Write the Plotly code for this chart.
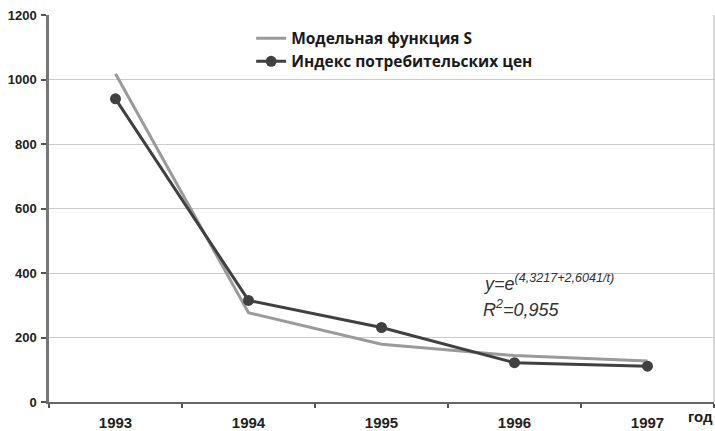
import plotly.graph_objects as go

years = ["1993", "1994", "1995", "1996", "1997"]
model_s = [1018, 277, 179, 144, 127]
cpi = [940, 315, 231, 122, 111]
y_ticks = [0, 200, 400, 600, 800, 1000, 1200]

fig = go.Figure()
fig.add_trace(go.Scatter(
    x=years, y=model_s, mode="lines", name="Модельная функция S",
    line=dict(color="#9a9a9a", width=3),
))
fig.add_trace(go.Scatter(
    x=years, y=cpi, mode="lines+markers", name="Индекс потребительских цен",
    line=dict(color="#404040", width=3),
    marker=dict(color="#404040", size=11),
))

fig.update_layout(
    width=715, height=431,
    margin=dict(l=49, r=1, t=15, b=29),
    paper_bgcolor="white", plot_bgcolor="white",
    font=dict(family="Liberation Sans, Arial, sans-serif", color="#1a1a1a"),
    showlegend=True,
    legend=dict(
        x=0.304, y=0.983, xanchor="left", yanchor="top",
        bgcolor="rgba(0,0,0,0)",
        font=dict(family="Open Sans, sans-serif", size=15.5, color="#1a1a1a", weight="bold"),
        itemwidth=30, tracegroupgap=0,
    ),
    xaxis=dict(
        type="category", range=[-0.5, 4.5],
        showline=True, linecolor="#666666", linewidth=2,
        ticks="outside", ticklen=4, tickcolor="#555555", tickwidth=1.5,
        tickson="boundaries", ticklabelstandoff=6,
        showgrid=False,
        tickfont=dict(size=15, weight="bold", color="#222222"),
    ),
    yaxis=dict(
        range=[0, 1200], tickvals=y_ticks,
        showline=True, linecolor="#777777", linewidth=2.5,
        ticks="outside", ticklen=5, tickcolor="#555555", tickwidth=1.5,
        showgrid=True, gridcolor="#cccccc", gridwidth=1,
        zeroline=False, ticklabelstandoff=2,
        tickfont=dict(size=13, weight="bold", color="#222222"),
    ),
    shapes=[dict(
        type="line", xref="paper", yref="paper", x0=1, x1=1, y0=0, y1=1,
        line=dict(color="#cccccc", width=1.5),
    )],
    annotations=[
        dict(
            text="год", xref="paper", yref="paper", x=1.0, y=0.0,
            xanchor="right", yanchor="top", yshift=-4, xshift=1,
            showarrow=False,
            font=dict(size=15, weight="bold", color="#1a1a1a"),
        ),
        dict(
            text="<i>y=e<sup>(4,3217+2,6041/t)</sup></i>", xref="x", yref="y",
            x=2.75, y=370, xanchor="left", yanchor="middle", showarrow=False,
            font=dict(size=18, color="#333333"),
        ),
        dict(
            text="<i>R<sup>2</sup>=0,955</i>", xref="x", yref="y",
            x=2.75, y=291, xanchor="left", yanchor="middle", showarrow=False,
            font=dict(size=18, color="#333333"),
        ),
    ],
)

fig.write_html("out.html")
